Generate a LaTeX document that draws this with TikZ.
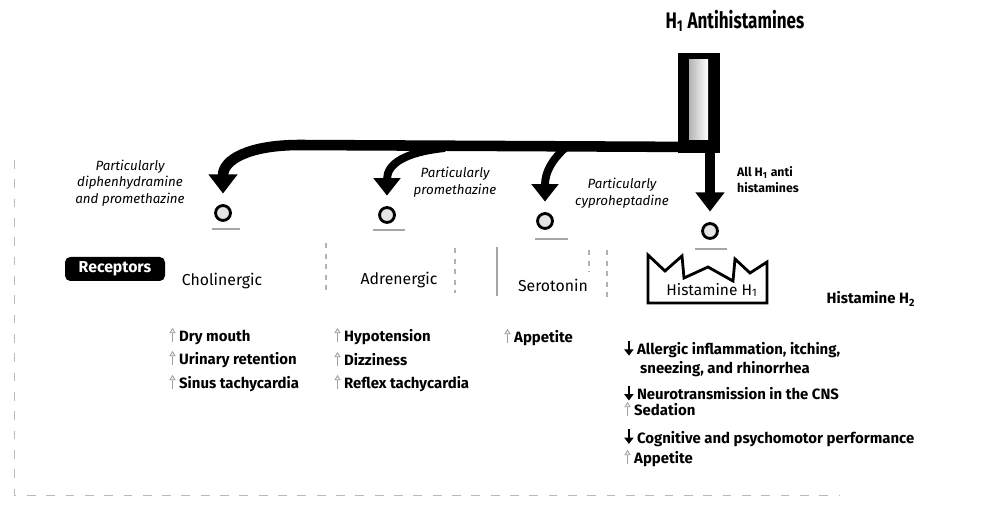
\documentclass[tikz,border=0pt]{standalone}
\usepackage{fontspec}
\setmainfont{Fira Sans}
\newfontfamily\narrowfont[FakeStretch=0.76]{Fira Sans}
\usetikzlibrary{arrows.meta, positioning}

% small arrows used in the effect lists
\newcommand{\upar}{\tikz[baseline=0pt]\draw[gray!75, line width=0.5pt, -{Triangle[open,length=3pt,width=3.6pt]}] (0pt,-0.5pt) -- (0pt,7.5pt);\hspace{2pt}}
\newcommand{\downar}{\tikz[baseline=0pt]\draw[line width=1.5pt, -{Triangle[length=3.6pt,width=5.2pt]}] (0pt,8pt) -- (0pt,-0.5pt);\hspace{2pt}}

\tikzset{
  bar/.style={line width=6pt, -{Triangle[length=11pt,width=16pt]}, shorten >=6pt},
  branch/.style={line width=4.5pt, -{Triangle[length=10pt,width=15pt]}, shorten >=6pt},
  drug/.style={circle, draw, line width=1.6pt, fill=gray!20, inner sep=0pt, minimum size=8.5pt},
  base/.style={gray!70, line width=0.6pt},
  note/.style={font=\itshape\fontsize{7.6}{9.5}\selectfont, align=center},
  recname/.style={font=\fontsize{9}{10}\selectfont},
  effect/.style={anchor=west, font=\bfseries\fontsize{8.5}{10.5}\selectfont, inner sep=0pt},
  boxedge/.style={gray!60, line width=0.6pt, dashed},
  frame/.style={gray!55, line width=0.5pt, dash pattern=on 5pt off 6pt},
}

\begin{document}
\begin{tikzpicture}[x=0.02cm, y=-0.02cm]
\useasboundingbox (0,0) rectangle (1000,509);

% outer frame, left and bottom
\draw[frame] (14,160) -- (14,495) -- (840,495);

% title
\node[font=\narrowfont\bfseries\fontsize{12.8}{14}\selectfont] (title) at (735,21) {H\textsubscript{1} Antihistamines};

% the tube coming down from the title
\fill (678,53) rectangle (720,153);
\shade[left color=gray!60, right color=white] (689,60) rectangle (708,140);
\coordinate (hub) at (700,147);
\coordinate (stemfoot) at (710,140);
\coordinate (forkB) at (445,148);
\coordinate (forkC) at (565,148);

% drugs sitting on the receptors
\node[drug] (drugA) at (223,213) {};
\node[drug] (drugB) at (387,215) {};
\node[drug] (drugC) at (545,221) {};
\node[drug] (drugD) at (710,231) {};
\draw[base] (212,229) -- (240,229);
\draw[base] (373,230) -- (405,230);
\draw[base] (535,239) -- (568,239);
\draw[base] (695,249) -- (727,249);

% arrows
\draw[bar] (hub) -- (300,145) .. controls (248,145) and (223,160) .. (drugA);
\draw[branch] (forkB) .. controls (405,152) and (387,164) .. (drugB);
\draw[branch] (forkC) .. controls (552,160) and (545,172) .. (drugC);
\draw[bar] (stemfoot) -- (drugD);

% arrow labels
\node[note] (noteA) at (130,183) {Particularly\\diphenhydramine\\and promethazine};
\node[note] (noteB) at (455,182) {Particularly\\promethazine};
\node[note] (noteC) at (622,193) {Particularly\\cyproheptadine};
\node[note, font=\bfseries\fontsize{7}{9}\selectfont, align=left, anchor=west] (noteD) at (731,180) {All H\textsubscript{1} anti\\histamines};

% receptors
\node[fill=black, text=white, rounded corners=3pt, font=\bfseries\fontsize{9}{10}\selectfont,
      minimum width=100*0.02cm, minimum height=24*0.02cm, inner sep=1pt] (rcp) at (115,269) {Receptors};
\node[recname] (chol) at (222,281) {Cholinergic};
\node[recname] (adr) at (399,280) {Adrenergic};
\node[recname] (ser) at (553,285) {Serotonin};
\node[recname, font=\fontsize{8.8}{10}\selectfont] (hone) at (712,290) {Histamine H\textsubscript{1}};
\node[recname, font=\bfseries\fontsize{8.5}{10}\selectfont] (htwo) at (871,299) {Histamine H\textsubscript{2}};

% receptor outlines
\draw[boxedge] (326,243) -- (326,292);
\draw[boxedge] (455,248) -- (455,293);
\draw[gray!70, line width=0.8pt] (497,247) -- (497,296);
\draw[boxedge] (589,250) -- (589,272);
\draw[boxedge] (607,250) -- (607,300);
\draw[line width=1.6pt, line join=miter] (648,255) -- (665,271) -- (682,256) -- (684,278) -- (708,267)
  -- (733,281) -- (735,259) -- (750,273) -- (767,262) -- (767,303) -- (648,303) -- cycle;

% effects
\node[effect] (c1) at (169,336) {\upar Dry mouth};
\node[effect] (c2) at (169,359) {\upar Urinary retention};
\node[effect] (c3) at (169,383) {\upar Sinus tachycardia};
\node[effect] (a1) at (334,336) {\upar Hypotension};
\node[effect] (a2) at (334,359) {\upar Dizziness};
\node[effect] (a3) at (334,383) {\upar Reflex tachycardia};
\node[effect] (s1) at (504,337) {\upar Appetite};
\node[effect, align=left] (h1) at (624,358) {\downar Allergic inflammation, itching,\\\hspace{9pt}sneezing, and rhinorrhea};
\node[effect] (h2) at (624,393) {\downar Neurotransmission in the CNS};
\node[effect] (h3) at (624,409) {\upar Sedation};
\node[effect] (h4) at (624,437) {\downar Cognitive and psychomotor performance};
\node[effect] (h5) at (624,458) {\upar Appetite};
\end{tikzpicture}
\end{document}
